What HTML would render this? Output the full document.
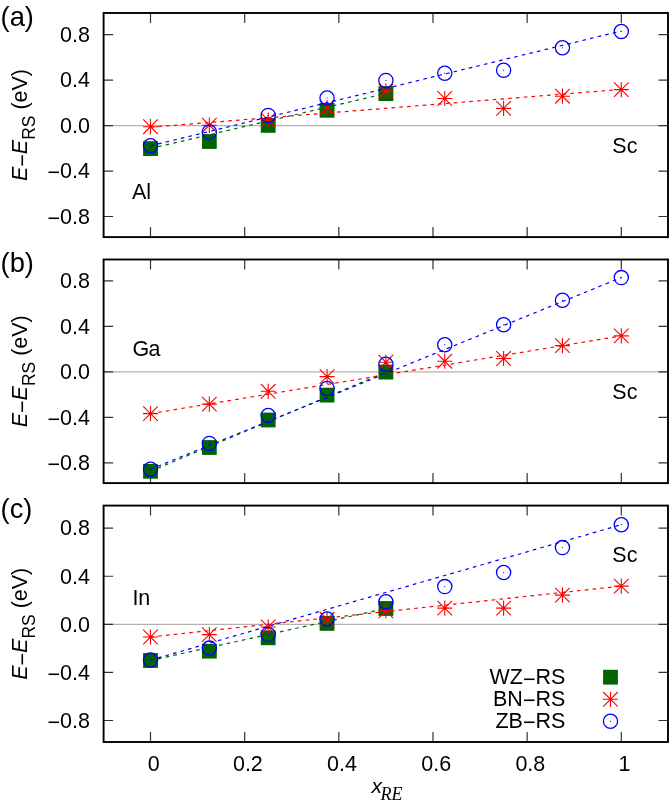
<!DOCTYPE html>
<html><head><meta charset="utf-8"><title>plot</title><style>
html,body{margin:0;padding:0;background:#fff;}
svg{display:block;will-change:transform;}
text{font-family:"Liberation Sans",sans-serif;fill:#000;}
.tk{font-size:21.5px;}
</style></head><body>
<svg width="670" height="804" viewBox="0 0 670 804">
<defs>
<g id="sq"><rect x="-7.4" y="-7.4" width="14.8" height="14.8" fill="#006400"/></g>
<g id="st" stroke="#ff0000" stroke-width="1.1" fill="none"><path d="M-7.5 0H7.5M0 -7.6V7.6M-7.3 -7.3L7.3 7.3M-7.3 7.3L7.3 -7.3"/><circle r="1.2" fill="#ff0000" stroke="none"/></g>
<g id="ci"><circle r="7.1" fill="none" stroke="#0000ff" stroke-width="1.3"/><circle r="0.6" fill="#0000ff"/></g>
</defs>
<line x1="103.6" y1="125.55" x2="668" y2="125.55" stroke="#b2b2b2" stroke-width="1.2"/>
<path d="M103.6 34.59h9.5M668 34.59h-9.5M103.6 80.07h9.5M668 80.07h-9.5M103.6 125.55h9.5M668 125.55h-9.5M103.6 171.03h9.5M668 171.03h-9.5M103.6 216.51h9.5M668 216.51h-9.5M150.5 13v10M150.5 237.1v-10M244.66 13v10M244.66 237.1v-10M338.82 13v10M338.82 237.1v-10M432.98 13v10M432.98 237.1v-10M527.14 13v10M527.14 237.1v-10M621.3 13v10M621.3 237.1v-10" stroke="#333" stroke-width="1.2" fill="none"/>
<text class="tk" transform="translate(90 41.89) scale(1 1.05)" text-anchor="end">0.8</text>
<text class="tk" transform="translate(90 87.37) scale(1 1.05)" text-anchor="end">0.4</text>
<text class="tk" transform="translate(90 132.85) scale(1 1.05)" text-anchor="end">0.0</text>
<text class="tk" transform="translate(90 178.33) scale(1 1.05)" text-anchor="end"><tspan dy="1.9">−</tspan><tspan dy="-1.9">0.4</tspan></text>
<text class="tk" transform="translate(90 223.81) scale(1 1.05)" text-anchor="end"><tspan dy="1.9">−</tspan><tspan dy="-1.9">0.8</tspan></text>
<line x1="150.5" y1="148.5" x2="385.9" y2="93.5" stroke="#006400" stroke-width="1.2" stroke-dasharray="3.6 4.2"/>
<use href="#sq" x="150.5" y="148.6"/>
<use href="#sq" x="209.35" y="141.5"/>
<use href="#sq" x="268.2" y="125.4"/>
<use href="#sq" x="327.05" y="110.3"/>
<use href="#sq" x="385.9" y="93.6"/>
<line x1="150.5" y1="127.2" x2="621.3" y2="89.4" stroke="#ff0000" stroke-width="1.2" stroke-dasharray="3.6 4.2"/>
<use href="#st" x="150.5" y="126.7"/>
<use href="#st" x="209.35" y="125.2"/>
<use href="#st" x="268.2" y="120.1"/>
<use href="#st" x="327.05" y="107.5"/>
<use href="#st" x="385.9" y="91.1"/>
<use href="#st" x="444.75" y="98.5"/>
<use href="#st" x="503.6" y="108.4"/>
<use href="#st" x="562.45" y="96.2"/>
<use href="#st" x="621.3" y="89.6"/>
<line x1="150.5" y1="145.8" x2="621.3" y2="31" stroke="#0000ff" stroke-width="1.2" stroke-dasharray="3.6 4.2"/>
<use href="#ci" x="150.5" y="145.8"/>
<use href="#ci" x="209.35" y="132.1"/>
<use href="#ci" x="268.2" y="115.4"/>
<use href="#ci" x="327.05" y="98"/>
<use href="#ci" x="385.9" y="80.4"/>
<use href="#ci" x="444.75" y="73.2"/>
<use href="#ci" x="503.6" y="70.3"/>
<use href="#ci" x="562.45" y="47.8"/>
<use href="#ci" x="621.3" y="31.5"/>
<rect x="103.6" y="13" width="564.4" height="224.1" fill="none" stroke="#000" stroke-width="1.9"/>
<text x="0.6" y="25.7" style="font-size:27.3px">(a)</text>
<text class="tk" transform="translate(132.0 198.7) scale(1 1.05)">Al</text>
<text class="tk" transform="translate(612.3 153.3) scale(1 1.05)">Sc</text>
<text class="tk" transform="translate(27 125.05) rotate(-90) scale(1 1.05)" text-anchor="middle"><tspan font-style="italic">E</tspan><tspan dy="2.4">−</tspan><tspan dy="-2.4" font-style="italic">E</tspan><tspan dy="7.4" font-size="17.5px">RS</tspan><tspan dy="-7.4"> (eV)</tspan></text>
<line x1="103.6" y1="371.8" x2="668" y2="371.8" stroke="#b2b2b2" stroke-width="1.2"/>
<path d="M103.6 280.8h9.5M668 280.8h-9.5M103.6 326.3h9.5M668 326.3h-9.5M103.6 371.8h9.5M668 371.8h-9.5M103.6 417.3h9.5M668 417.3h-9.5M103.6 462.8h9.5M668 462.8h-9.5M150.5 259.5v10M150.5 483.1v-10M244.66 259.5v10M244.66 483.1v-10M338.82 259.5v10M338.82 483.1v-10M432.98 259.5v10M432.98 483.1v-10M527.14 259.5v10M527.14 483.1v-10M621.3 259.5v10M621.3 483.1v-10" stroke="#333" stroke-width="1.2" fill="none"/>
<text class="tk" transform="translate(90 288.1) scale(1 1.05)" text-anchor="end">0.8</text>
<text class="tk" transform="translate(90 333.6) scale(1 1.05)" text-anchor="end">0.4</text>
<text class="tk" transform="translate(90 379.1) scale(1 1.05)" text-anchor="end">0.0</text>
<text class="tk" transform="translate(90 424.6) scale(1 1.05)" text-anchor="end"><tspan dy="1.9">−</tspan><tspan dy="-1.9">0.4</tspan></text>
<text class="tk" transform="translate(90 470.1) scale(1 1.05)" text-anchor="end"><tspan dy="1.9">−</tspan><tspan dy="-1.9">0.8</tspan></text>
<line x1="150.5" y1="471.3" x2="385.9" y2="372.1" stroke="#006400" stroke-width="1.2" stroke-dasharray="3.6 4.2"/>
<use href="#sq" x="150.5" y="471.3"/>
<use href="#sq" x="209.35" y="447.5"/>
<use href="#sq" x="268.2" y="420"/>
<use href="#sq" x="327.05" y="395.1"/>
<use href="#sq" x="385.9" y="372.1"/>
<line x1="150.5" y1="413.6" x2="621.3" y2="335.9" stroke="#ff0000" stroke-width="1.2" stroke-dasharray="3.6 4.2"/>
<use href="#st" x="150.5" y="413.6"/>
<use href="#st" x="209.35" y="404.1"/>
<use href="#st" x="268.2" y="391.3"/>
<use href="#st" x="327.05" y="376.6"/>
<use href="#st" x="385.9" y="362.2"/>
<use href="#st" x="444.75" y="361.2"/>
<use href="#st" x="503.6" y="358.5"/>
<use href="#st" x="562.45" y="345.6"/>
<use href="#st" x="621.3" y="335.9"/>
<line x1="150.5" y1="469.3" x2="621.3" y2="277.6" stroke="#0000ff" stroke-width="1.2" stroke-dasharray="3.6 4.2"/>
<use href="#ci" x="150.5" y="469.3"/>
<use href="#ci" x="209.35" y="443.4"/>
<use href="#ci" x="268.2" y="415.5"/>
<use href="#ci" x="327.05" y="388.4"/>
<use href="#ci" x="385.9" y="364.2"/>
<use href="#ci" x="444.75" y="344.7"/>
<use href="#ci" x="503.6" y="324.8"/>
<use href="#ci" x="562.45" y="300.3"/>
<use href="#ci" x="621.3" y="277.6"/>
<rect x="103.6" y="259.5" width="564.4" height="223.6" fill="none" stroke="#000" stroke-width="1.9"/>
<text x="0.6" y="272.2" style="font-size:27.3px">(b)</text>
<text class="tk" transform="translate(132.6 355.6) scale(1 1.05)" letter-spacing="-0.9">Ga</text>
<text class="tk" transform="translate(612.3 399.2) scale(1 1.05)">Sc</text>
<text class="tk" transform="translate(27 371.3) rotate(-90) scale(1 1.05)" text-anchor="middle"><tspan font-style="italic">E</tspan><tspan dy="2.4">−</tspan><tspan dy="-2.4" font-style="italic">E</tspan><tspan dy="7.4" font-size="17.5px">RS</tspan><tspan dy="-7.4"> (eV)</tspan></text>
<line x1="103.6" y1="624.35" x2="668" y2="624.35" stroke="#b2b2b2" stroke-width="1.2"/>
<path d="M103.6 528.19h9.5M668 528.19h-9.5M103.6 576.27h9.5M668 576.27h-9.5M103.6 624.35h9.5M668 624.35h-9.5M103.6 672.43h9.5M668 672.43h-9.5M103.6 720.51h9.5M668 720.51h-9.5M150.5 505.6v10M150.5 742.0v-10M244.66 505.6v10M244.66 742.0v-10M338.82 505.6v10M338.82 742.0v-10M432.98 505.6v10M432.98 742.0v-10M527.14 505.6v10M527.14 742.0v-10M621.3 505.6v10M621.3 742.0v-10" stroke="#333" stroke-width="1.2" fill="none"/>
<text class="tk" transform="translate(90 535.49) scale(1 1.05)" text-anchor="end">0.8</text>
<text class="tk" transform="translate(90 583.57) scale(1 1.05)" text-anchor="end">0.4</text>
<text class="tk" transform="translate(90 631.65) scale(1 1.05)" text-anchor="end">0.0</text>
<text class="tk" transform="translate(90 679.73) scale(1 1.05)" text-anchor="end"><tspan dy="1.9">−</tspan><tspan dy="-1.9">0.4</tspan></text>
<text class="tk" transform="translate(90 727.81) scale(1 1.05)" text-anchor="end"><tspan dy="1.9">−</tspan><tspan dy="-1.9">0.8</tspan></text>
<line x1="150.5" y1="660.5" x2="385.9" y2="608.5" stroke="#006400" stroke-width="1.2" stroke-dasharray="3.6 4.2"/>
<use href="#sq" x="150.5" y="660.5"/>
<use href="#sq" x="209.35" y="651.2"/>
<use href="#sq" x="268.2" y="637.8"/>
<use href="#sq" x="327.05" y="623.4"/>
<use href="#sq" x="385.9" y="608.5"/>
<line x1="150.5" y1="637" x2="621.3" y2="586.1" stroke="#ff0000" stroke-width="1.2" stroke-dasharray="3.6 4.2"/>
<use href="#st" x="150.5" y="637"/>
<use href="#st" x="209.35" y="634.6"/>
<use href="#st" x="268.2" y="627"/>
<use href="#st" x="327.05" y="619.3"/>
<use href="#st" x="385.9" y="610.9"/>
<use href="#st" x="444.75" y="608.1"/>
<use href="#st" x="503.6" y="608.1"/>
<use href="#st" x="562.45" y="595.1"/>
<use href="#st" x="621.3" y="586.1"/>
<line x1="150.5" y1="660.1" x2="621.3" y2="524.7" stroke="#0000ff" stroke-width="1.2" stroke-dasharray="3.6 4.2"/>
<use href="#ci" x="150.5" y="660.1"/>
<use href="#ci" x="209.35" y="648.1"/>
<use href="#ci" x="268.2" y="634.4"/>
<use href="#ci" x="327.05" y="619"/>
<use href="#ci" x="385.9" y="601.8"/>
<use href="#ci" x="444.75" y="586.6"/>
<use href="#ci" x="503.6" y="572.5"/>
<use href="#ci" x="562.45" y="547.6"/>
<use href="#ci" x="621.3" y="524.7"/>
<rect x="103.6" y="505.6" width="564.4" height="236.4" fill="none" stroke="#000" stroke-width="1.9"/>
<text x="0.6" y="518.0" style="font-size:27.3px">(c)</text>
<text class="tk" transform="translate(132.4 605.3) scale(1 1.05)">In</text>
<text class="tk" transform="translate(612.3 562.0) scale(1 1.05)">Sc</text>
<text class="tk" transform="translate(27 623.8) rotate(-90) scale(1 1.05)" text-anchor="middle"><tspan font-style="italic">E</tspan><tspan dy="2.4">−</tspan><tspan dy="-2.4" font-style="italic">E</tspan><tspan dy="7.4" font-size="17.5px">RS</tspan><tspan dy="-7.4"> (eV)</tspan></text>
<text class="tk" transform="translate(153.7 771.3) scale(1 1.05)" text-anchor="middle">0</text>
<text class="tk" transform="translate(247.86 771.3) scale(1 1.05)" text-anchor="middle">0.2</text>
<text class="tk" transform="translate(342.02 771.3) scale(1 1.05)" text-anchor="middle">0.4</text>
<text class="tk" transform="translate(436.18 771.3) scale(1 1.05)" text-anchor="middle">0.6</text>
<text class="tk" transform="translate(530.34 771.3) scale(1 1.05)" text-anchor="middle">0.8</text>
<text class="tk" transform="translate(624.5 771.3) scale(1 1.05)" text-anchor="middle">1</text>
<text x="371.4" y="792.8" style="font-size:21px;font-style:italic">x</text><text x="380.5" y="799.9" style="font-family:'Liberation Serif',serif;font-size:18px;font-style:italic">RE</text>
<text class="tk" transform="translate(565.3 684.3) scale(1 1.05)" text-anchor="end">WZ<tspan dy="2.4">−</tspan><tspan dy="-2.4">RS</tspan></text>
<use href="#sq" x="610.5" y="677.2"/>
<text class="tk" transform="translate(565.3 705.8) scale(1 1.05)" text-anchor="end">BN<tspan dy="2.4">−</tspan><tspan dy="-2.4">RS</tspan></text>
<use href="#st" x="610.5" y="699.3"/>
<text class="tk" transform="translate(565.3 727.6) scale(1 1.05)" text-anchor="end">ZB<tspan dy="2.4">−</tspan><tspan dy="-2.4">RS</tspan></text>
<use href="#ci" x="610.5" y="721.3"/>
</svg>
</body></html>
